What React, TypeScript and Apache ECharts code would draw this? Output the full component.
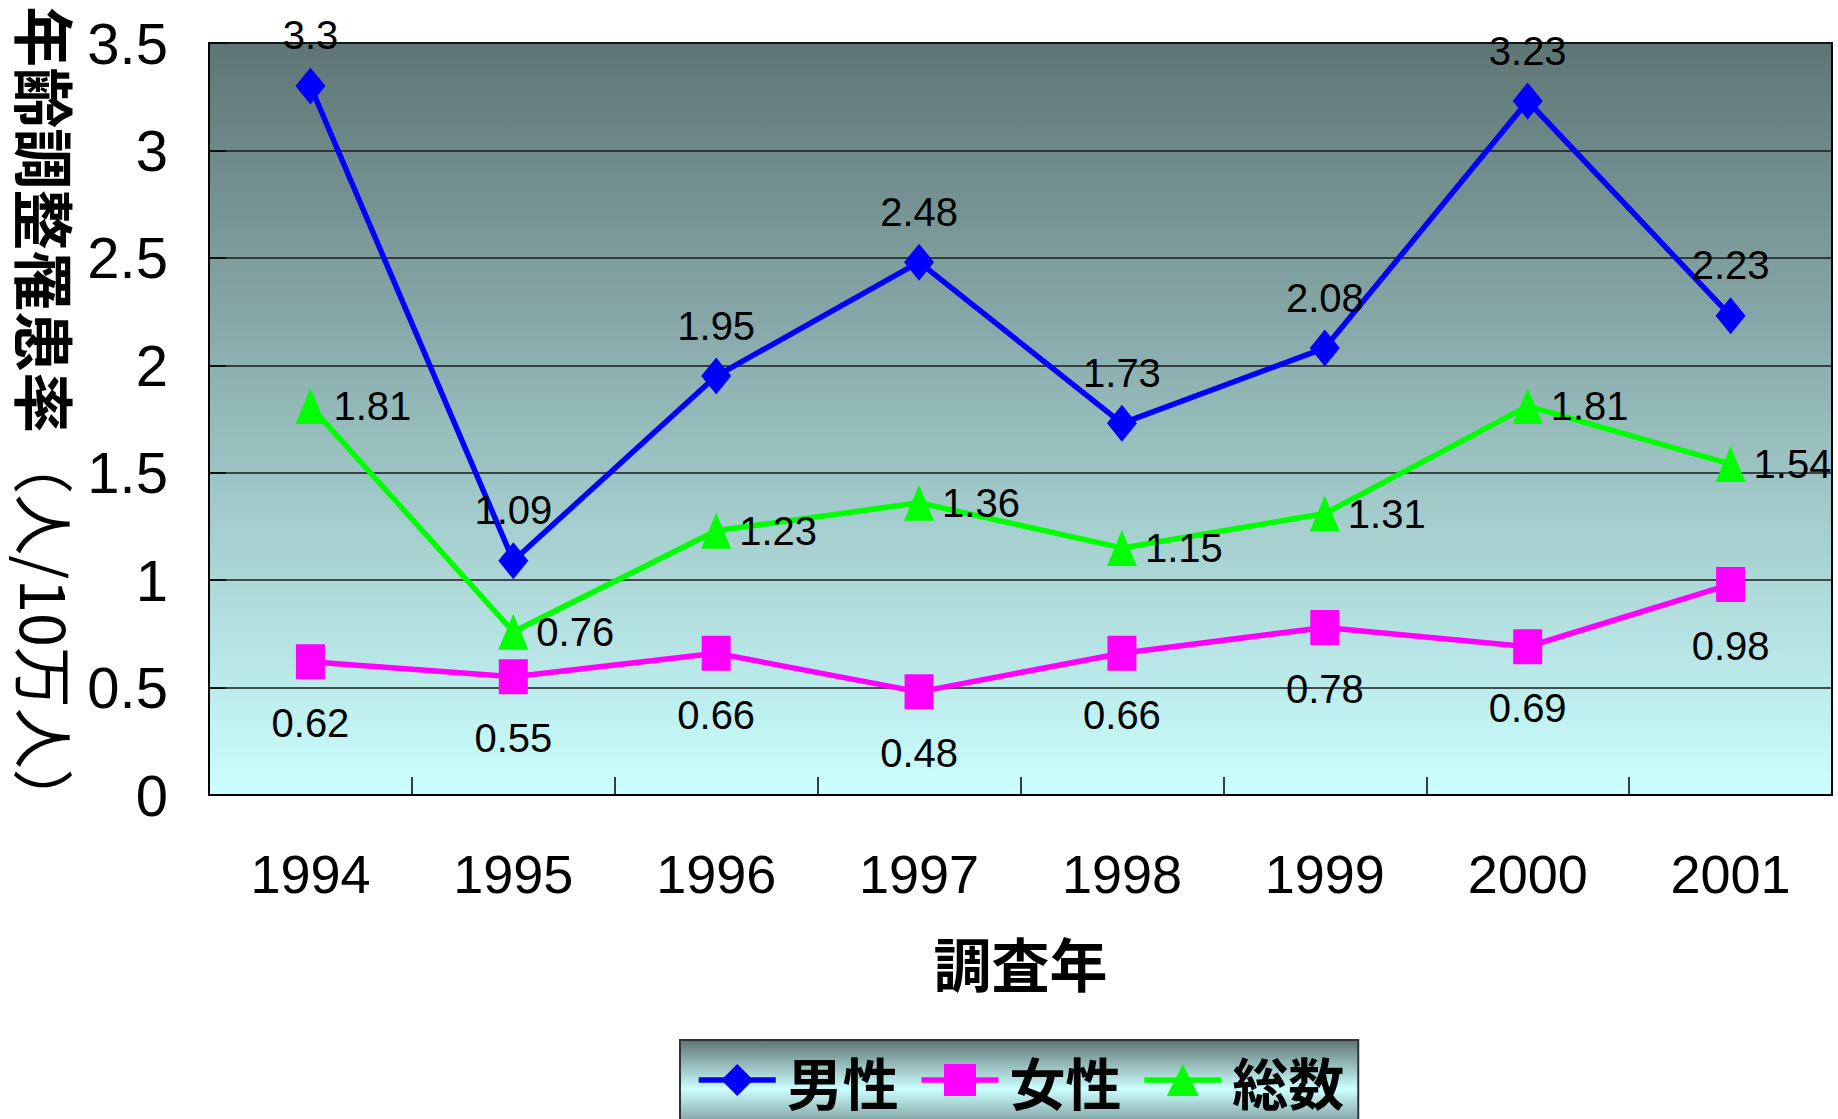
import React, { useEffect, useRef } from "react";
import * as echarts from "echarts";

const categories = ["1994", "1995", "1996", "1997", "1998", "1999", "2000", "2001"];
const maleValues = [3.3, 1.09, 1.95, 2.48, 1.73, 2.08, 3.23, 2.23];
const femaleValues = [0.62, 0.55, 0.66, 0.48, 0.66, 0.78, 0.69, 0.98];
const totalValues = [1.81, 0.76, 1.23, 1.36, 1.15, 1.31, 1.81, 1.54];
const seriesNames = ["男性", "女性", "総数"];
const xAxisTitle = "調査年";
const yAxisTitleMain = "年齢調整罹患率";
const yAxisTitleUnit = "（人/10万人）";

const NARROW = "'Liberation Sans Narrow', 'Arial Narrow', 'Liberation Sans', Arial, sans-serif";
const CJK = "'Noto Sans CJK JP', 'Noto Sans CJK SC', sans-serif";

export default function App() {
  const ref = useRef<HTMLDivElement>(null);
  useEffect(() => {
    document.body.style.margin = "0";
    const chart = echarts.init(ref.current!, null, { renderer: "svg" });
    const labelBase = { show: true, color: "#000", fontSize: 40, fontFamily: NARROW };
    chart.setOption({
      animation: false,
      backgroundColor: "#fff",
      grid: {
        left: 209,
        right: 6,
        top: 43,
        bottom: 324,
        show: true,
        backgroundColor: new echarts.graphic.LinearGradient(0, 0, 0, 1, [
          { offset: 0, color: "#5e7575" },
          { offset: 1, color: "#ccffff" },
        ]),
        borderColor: "#000",
        borderWidth: 2,
      },
      legend: {
        data: seriesNames,
        left: 680,
        top: 1040,
        itemWidth: 77,
        itemHeight: 40,
        itemGap: 20,
        padding: [12, 14, 30, 16],
        lineStyle: { width: 5.5 },
        backgroundColor: new echarts.graphic.LinearGradient(0, 0, 0, 1, [
          { offset: 0, color: "#5e7474" },
          { offset: 0.5, color: "#ccffff" },
          { offset: 1, color: "#5e7474" },
        ]),
        borderColor: "#333",
        borderWidth: 2,
        textStyle: {
          fontSize: 56,
          fontWeight: "bold",
          color: "#000",
          fontFamily: CJK,
          padding: [0, 0, 0, 6],
        },
      },
      xAxis: {
        type: "category",
        data: categories,
        name: xAxisTitle,
        nameLocation: "middle",
        nameGap: 138,
        nameTextStyle: { fontSize: 58, fontWeight: "bold", color: "#000", fontFamily: CJK },
        axisLine: { show: true, lineStyle: { color: "#000", width: 2 } },
        axisTick: { show: true, inside: true, length: 18, lineStyle: { color: "#000", width: 1.5 } },
        axisLabel: { fontSize: 54, fontFamily: NARROW, color: "#000", margin: 52 },
        splitLine: { show: false },
      },
      yAxis: {
        type: "value",
        min: 0,
        max: 3.5,
        interval: 0.5,
        axisLine: { show: true, lineStyle: { color: "#000", width: 2 } },
        axisTick: { show: true, inside: true, length: 17, lineStyle: { color: "#000", width: 1.5 } },
        axisLabel: { fontSize: 58, fontFamily: NARROW, color: "#000", margin: 41 },
        splitLine: { show: true, lineStyle: { color: "#1a1a1a", width: 1.5 } },
      },
      graphic: [
        {
          type: "text",
          x: 46,
          y: 418,
          rotation: -Math.PI / 2,
          style: {
            text: `{b|${yAxisTitleMain}}{n|${yAxisTitleUnit}}`,
            rich: {
              b: { fontSize: 61, fontWeight: "bold", fontFamily: CJK, fill: "#000", color: "#000" },
              n: { fontSize: 61, fontWeight: "normal", fontFamily: CJK, fill: "#000", color: "#000" },
            },
            font: `bold 61px ${CJK}`,
            fill: "#000",
            align: "center",
            verticalAlign: "middle",
            textAlign: "center",
            textVerticalAlign: "middle",
          },
        },
      ],
      series: [
        {
          name: seriesNames[0],
          type: "line",
          data: maleValues,
          symbol: "diamond",
          symbolSize: [30, 37],
          lineStyle: { color: "#0000ff", width: 5.5 },
          itemStyle: { color: "#0000ff" },
          label: { ...labelBase, position: "top", distance: 12 },
        },
        {
          name: seriesNames[1],
          type: "line",
          data: femaleValues,
          symbol: "rect",
          symbolSize: [29, 35],
          lineStyle: { color: "#ff00ff", width: 5.5 },
          itemStyle: { color: "#ff00ff" },
          label: { ...labelBase, position: "bottom", distance: 24 },
        },
        {
          name: seriesNames[2],
          type: "line",
          data: totalValues,
          symbol: "triangle",
          symbolSize: [30, 36],
          lineStyle: { color: "#00ff00", width: 5.5 },
          itemStyle: { color: "#00ff00" },
          label: { ...labelBase, position: "right", distance: 8 },
        },
      ],
    });
    return () => chart.dispose();
  }, []);
  return <div ref={ref} style={{ position: "absolute", left: 0, top: 0, width: 1838, height: 1119 }} />;
}
